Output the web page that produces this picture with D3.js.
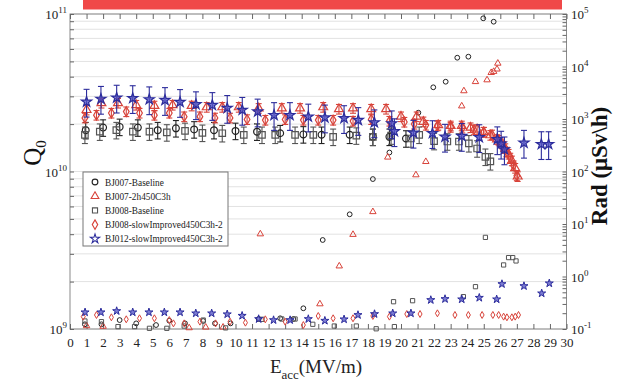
<!DOCTYPE html>
<html>
<head>
<meta charset="utf-8">
<script src="https://cdn.jsdelivr.net/npm/d3@7"></script>
<style>
  html, body { margin: 0; padding: 0; background: #fff; }
  svg { display: block; font-family: "Liberation Serif", "Times New Roman", serif; }
</style>
</head>
<body>
<svg id="chart" width="629" height="386"></svg>
<script>
// ---- Data: Q0 (left axis) with error bars, radiation dose (right axis) ----
const xTicks = d3.range(0, 31);
const leftDecades = [9, 10, 11];
const rightDecades = [-1, 0, 1, 2, 3, 4, 5];

// BJ007-Baseline
const bj007BaseE  = [0.95, 2.0, 3.0, 4.1, 5.3, 6.4, 7.5, 8.7, 10.0, 11.3, 12.7, 14.1, 15.2, 16.9, 18.3, 19.3, 20.3];
const bj007BaseQ  = [1.83e10, 1.90e10, 1.92e10, 1.90e10, 1.83e10, 1.88e10, 1.85e10, 1.83e10, 1.81e10, 1.79e10, 1.75e10, 1.72e10, 1.71e10, 1.71e10, 1.66e10, 1.66e10, 1.62e10];
const bj007BaseRE = [0.9, 1.9, 3.0, 4.0, 5.2, 6.0, 6.95, 8.05, 8.76, 9.7, 11.4, 12.7, 13.5, 14.1, 15.27, 16.9, 18.3, 19.3, 21.05, 21.95, 22.7, 23.4, 24.07, 24.97, 25.6];
const bj007BaseR  = [0.123, 0.123, 0.148, 0.128, 0.119, 0.144, 0.128, 0.142, 0.128, 0.128, 0.155, 0.160, 0.155, 0.248, 4.96, 15.3, 71.8, 230, 1317, 4017, 5130, 14700, 15380, 82800, 71300];

// BJ007-2h450C3h
const bj007BakeE  = [1.0, 1.9, 2.9, 4.0, 5.1, 6.2, 7.35, 8.26, 9.2, 10.2, 11.4, 12.8, 13.9, 15.3, 16.25, 17.1, 18.2, 19.1, 20.0, 20.95, 21.35, 22.25, 23.0, 23.67, 24.2, 24.6, 25.0, 25.4, 25.8, 26.1, 26.3, 26.5, 26.7, 26.9, 27.05];
const bj007BakeQ  = [2.46e10, 2.72e10, 2.72e10, 2.64e10, 2.61e10, 2.64e10, 2.61e10, 2.56e10, 2.56e10, 2.56e10, 2.52e10, 2.52e10, 2.52e10, 2.56e10, 2.49e10, 2.52e10, 2.49e10, 2.49e10, 2.23e10, 2.23e10, 2.07e10, 1.97e10, 1.95e10, 1.95e10, 1.90e10, 1.85e10, 1.78e10, 1.70e10, 1.60e10, 1.50e10, 1.40e10, 1.29e10, 1.17e10, 1.05e10, 9.3e9];
const bj007BakeRE = [1.0, 2.0, 7.2, 8.2, 9.25, 11.5, 15.1, 16.27, 17.1, 18.3, 19.2, 20.9, 21.5, 23.67, 23.8, 24.5, 25.2, 25.45, 25.6, 25.8, 25.85];
const bj007BakeR  = [0.115, 0.112, 0.105, 0.108, 0.108, 6.45, 0.30, 1.58, 6.3, 17.1, 187, 86, 154, 1765, 3430, 5130, 5540, 7630, 8010, 8900, 11500];

// BJ008-Baseline
const bj008BaseE  = [0.9, 1.8, 2.8, 3.8, 4.8, 5.85, 6.95, 8.0, 9.2, 10.5, 11.6, 12.4, 13.6, 14.7, 15.9, 17.3, 18.3, 19.4, 20.6, 21.1, 22.0, 22.8, 23.5, 24.1, 24.6, 25.1, 25.4];
const bj008BaseQ  = [1.71e10, 1.79e10, 1.83e10, 1.79e10, 1.79e10, 1.77e10, 1.81e10, 1.76e10, 1.75e10, 1.71e10, 1.71e10, 1.71e10, 1.71e10, 1.71e10, 1.66e10, 1.69e10, 1.66e10, 1.69e10, 1.62e10, 1.71e10, 1.56e10, 1.55e10, 1.55e10, 1.51e10, 1.40e10, 1.24e10, 1.16e10];
const bj008BaseRE = [0.9, 1.9, 2.9, 3.9, 4.8, 5.85, 6.9, 8.05, 9.4, 11.6, 12.8, 13.6, 14.67, 15.97, 17.3, 18.5, 19.55, 19.6, 20.7, 23.77, 24.5, 25.1, 26.2, 26.5, 26.75, 26.95];
const bj008BaseR  = [0.142, 0.138, 0.111, 0.111, 0.103, 0.103, 0.114, 0.148, 0.105, 0.153, 0.155, 0.155, 0.123, 0.114, 0.114, 0.101, 0.331, 0.111, 0.346, 0.413, 0.64, 5.56, 1.66, 2.29, 2.29, 1.98];

// BJ008-slowImproved450C3h-2
const bj008SlowE  = [0.9, 1.6, 2.5, 3.4, 4.2, 5.1, 6.0, 6.9, 7.85, 8.76, 9.67, 10.7, 11.8, 13.0, 14.1, 15.0, 15.9, 17.1, 18.2, 19.3, 20.2, 20.8, 21.5, 22.2, 23.0, 23.7, 24.4, 25.0, 25.5, 25.9, 26.2, 26.4, 26.6, 26.8, 27.0];
const bj008SlowQ  = [2.19e10, 2.28e10, 2.35e10, 2.40e10, 2.35e10, 2.28e10, 2.35e10, 2.23e10, 2.23e10, 2.19e10, 2.19e10, 2.14e10, 2.12e10, 2.14e10, 2.12e10, 2.12e10, 2.12e10, 2.09e10, 2.14e10, 2.09e10, 2.06e10, 2.00e10, 1.97e10, 1.95e10, 1.91e10, 1.89e10, 1.84e10, 1.78e10, 1.71e10, 1.58e10, 1.45e10, 1.33e10, 1.22e10, 1.09e10, 9.4e9];
const bj008SlowRE = [0.8, 1.6, 2.5, 3.4, 4.2, 5.1, 6.0, 6.25, 6.9, 7.85, 8.8, 9.67, 10.6, 11.8, 13.0, 14.1, 15.0, 15.9, 17.1, 18.3, 19.3, 20.35, 21.15, 22.2, 23.26, 24.07, 24.9, 25.55, 25.9, 26.2, 26.4, 26.7, 26.9, 27.1];
const bj008SlowR  = [0.172, 0.185, 0.167, 0.153, 0.160, 0.160, 0.148, 0.128, 0.128, 0.138, 0.128, 0.138, 0.132, 0.153, 0.138, 0.119, 0.177, 0.160, 0.160, 0.177, 0.172, 0.193, 0.193, 0.199, 0.185, 0.185, 0.185, 0.185, 0.185, 0.172, 0.167, 0.167, 0.172, 0.185];

// BJ012-slowImproved450C3h-2
const bj012SlowE  = [1.0, 1.87, 2.82, 3.79, 4.79, 5.74, 6.65, 7.61, 8.6, 9.5, 10.41, 11.34, 12.33, 13.29, 14.4, 15.4, 16.56, 17.42, 18.39, 19.44, 19.6, 20.75, 21.9, 22.66, 23.67, 24.73, 25.82, 26.05, 26.25, 27.43, 28.48, 28.92];
const bj012SlowQ  = [2.77e10, 2.89e10, 2.94e10, 2.92e10, 2.87e10, 2.84e10, 2.76e10, 2.67e10, 2.64e10, 2.53e10, 2.46e10, 2.40e10, 2.28e10, 2.28e10, 2.23e10, 2.20e10, 2.18e10, 2.12e10, 2.05e10, 2.02e10, 1.80e10, 1.76e10, 1.75e10, 1.66e10, 1.68e10, 1.65e10, 1.60e10, 1.50e10, 1.38e10, 1.52e10, 1.49e10, 1.49e10];
const bj012SlowRE = [0.91, 1.87, 2.82, 3.79, 4.77, 5.7, 6.65, 7.6, 8.56, 9.5, 10.4, 11.4, 12.3, 13.3, 14.4, 15.4, 16.56, 17.4, 18.4, 19.5, 20.6, 21.8, 22.66, 23.67, 24.73, 25.78, 26.1, 27.43, 28.5, 28.96];
const bj012SlowR  = [0.208, 0.208, 0.220, 0.208, 0.208, 0.208, 0.208, 0.199, 0.199, 0.191, 0.179, 0.155, 0.148, 0.148, 0.155, 0.144, 0.153, 0.185, 0.193, 0.199, 0.199, 0.357, 0.373, 0.368, 0.394, 0.368, 0.719, 0.658, 0.478, 0.742];

// relative uncertainty of Q0 for each cavity test
const errBase = 0.12, errBake = 0.07, errStar = 0.20;

// ---- Series definitions ----
const RED = "#d8433a", BLUE = "#2c2c9c", BLACK = "#222";
const series = [
  { name: "BJ007-Baseline", sym: d3.symbolCircle, qs: 36, rs: 18, stroke: BLACK, fill: "none",
    qE: bj007BaseE, qV: bj007BaseQ, rE: bj007BaseRE, rV: bj007BaseR, err: errBase },
  { name: "BJ007-2h450C3h", sym: d3.symbolTriangle, qs: 34, rs: 18, stroke: RED, fill: "none",
    qE: bj007BakeE, qV: bj007BakeQ, rE: bj007BakeRE, rV: bj007BakeR, err: errBake },
  { name: "BJ008-Baseline", sym: d3.symbolSquare, qs: 42, rs: 18, stroke: "#555", fill: "none",
    qE: bj008BaseE, qV: bj008BaseQ, rE: bj008BaseRE, rV: bj008BaseR, err: errBase },
  { name: "BJ008-slowImproved450C3h-2", sym: d3.symbolDiamond, qs: 28, rs: 14, stroke: RED, fill: "none",
    qE: bj008SlowE, qV: bj008SlowQ, rE: bj008SlowRE, rV: bj008SlowR, err: errBake },
  { name: "BJ012-slowImproved450C3h-2", sym: d3.symbolStar, qs: 32, rs: 20, stroke: BLUE, fill: "#5050c4",
    qE: bj012SlowE, qV: bj012SlowQ, rE: bj012SlowRE, rV: bj012SlowR, err: errStar }
];

// ---- Layout ----
const svg = d3.select("#chart");
const L = 70, R = 566.5, T = 14, B = 329;
const x  = d3.scaleLinear().domain([0, 30]).range([L, R]);
const yQ = d3.scaleLog().domain([1e9, 1e11]).range([B, T]);
const yR = d3.scaleLog().domain([0.1, 1e5]).range([B, T]);

// banner
svg.append("rect").attr("x", 83).attr("y", 0).attr("width", 479).attr("height", 9.5).attr("fill", "#f04848");

// horizontal grid at every Q0 minor tick
svg.append("g").selectAll("line").data(yQ.ticks()).join("line")
  .attr("x1", L).attr("x2", R)
  .attr("y1", d => yQ(d)).attr("y2", d => yQ(d))
  .attr("stroke", "#e2e2e2").attr("stroke-width", 1);

// frame
svg.append("rect").attr("x", L).attr("y", T).attr("width", R - L).attr("height", B - T)
  .attr("fill", "none").attr("stroke", "#8a8a8a").attr("stroke-width", 1);

// axes
const axStyle = g => { g.select(".domain").remove(); g.selectAll(".tick line").attr("stroke", "#666"); };
svg.append("g").attr("transform", `translate(0,${B})`)
  .call(d3.axisBottom(x).tickValues(xTicks).tickSize(-5).tickPadding(9).tickFormat(d3.format("d")))
  .call(axStyle)
  .call(g => g.selectAll("text").attr("font-size", 13).attr("font-family", "Liberation Serif").attr("fill", "#222"));
svg.append("g").attr("transform", `translate(0,${T})`)
  .call(d3.axisTop(x).tickValues(xTicks).tickSize(-5).tickFormat(""))
  .call(axStyle);
svg.append("g").attr("transform", `translate(${L},0)`)
  .call(d3.axisLeft(yQ).tickSize(-4).tickFormat(""))
  .call(axStyle);
svg.append("g").attr("transform", `translate(${R},0)`)
  .call(d3.axisRight(yR).tickSize(-4).tickFormat(""))
  .call(axStyle);

// power-of-ten labels
function powLabel(g, v, exp, anchor, xpos, yScale) {
  const t = g.append("text").attr("x", xpos).attr("y", yScale(v) + 5)
    .attr("text-anchor", anchor).attr("font-size", 13).attr("fill", "#222");
  t.append("tspan").text("10");
  t.append("tspan").attr("dy", -6).attr("font-size", 9).text(exp);
}
const gl = svg.append("g");
leftDecades.forEach(e => powLabel(gl, Math.pow(10, e), String(e), "end", 67, yQ));
rightDecades.forEach(e => powLabel(gl, Math.pow(10, e), String(e), "start", 571, yR));

// axis titles
const qt = svg.append("text").attr("transform", "translate(41,153) rotate(-90)")
  .attr("text-anchor", "middle").attr("font-size", 25).attr("fill", "#111");
qt.append("tspan").text("Q");
qt.append("tspan").attr("dy", 5).attr("font-size", 15).text("0");

svg.append("text").attr("transform", "translate(607,166) rotate(-90)")
  .attr("text-anchor", "middle").attr("font-size", 23).attr("font-weight", "bold").attr("fill", "#111")
  .text("Rad (\u03bcSv\\h)");

const xt = svg.append("text").attr("x", 316).attr("y", 373).attr("text-anchor", "middle")
  .attr("font-size", 19).attr("fill", "#222");
xt.append("tspan").text("E");
xt.append("tspan").attr("dy", 6).attr("font-size", 13).text("acc");
xt.append("tspan").attr("dy", -6).text("(MV/m)");

// ---- Marks ----
const plot = svg.append("g");
series.forEach(s => {
  const g = plot.append("g");
  const qData = s.qE.map((e, i) => ({ e, v: s.qV[i] }));
  const rData = s.rE.map((e, i) => ({ e, v: s.rV[i] }));
  const eb = g.append("g").attr("stroke", s.stroke).attr("stroke-width", 1.1);
  eb.selectAll("line.v").data(qData).join("line").attr("class", "v")
    .attr("x1", d => x(d.e)).attr("x2", d => x(d.e))
    .attr("y1", d => yQ(d.v * (1 + s.err))).attr("y2", d => yQ(d.v * (1 - s.err)));
  eb.selectAll("line.t").data(qData).join("line").attr("class", "t")
    .attr("x1", d => x(d.e) - 3).attr("x2", d => x(d.e) + 3)
    .attr("y1", d => yQ(d.v * (1 + s.err))).attr("y2", d => yQ(d.v * (1 + s.err)));
  eb.selectAll("line.b").data(qData).join("line").attr("class", "b")
    .attr("x1", d => x(d.e) - 3).attr("x2", d => x(d.e) + 3)
    .attr("y1", d => yQ(d.v * (1 - s.err))).attr("y2", d => yQ(d.v * (1 - s.err)));
  g.selectAll("path.q").data(qData).join("path").attr("class", "q")
    .attr("d", d3.symbol(s.sym, s.qs))
    .attr("transform", d => `translate(${x(d.e)},${yQ(d.v)})`)
    .attr("fill", s.fill).attr("fill-opacity", 0.75)
    .attr("stroke", s.stroke).attr("stroke-width", 1.2);
  g.selectAll("path.r").data(rData).join("path").attr("class", "r")
    .attr("d", d3.symbol(s.sym, s.rs))
    .attr("transform", d => `translate(${x(d.e)},${yR(d.v)})`)
    .attr("fill", s.fill).attr("fill-opacity", 0.75)
    .attr("stroke", s.stroke).attr("stroke-width", 1);
});

// ---- Legend ----
const lg = svg.append("g").attr("transform", "translate(83,172)");
lg.append("rect").attr("width", 145).attr("height", 74).attr("fill", "#fff").attr("stroke", "#777");
series.forEach((s, i) => {
  const yy = 10 + i * 14.2;
  lg.append("path").attr("d", d3.symbol(s.sym, 26)).attr("transform", `translate(12,${yy})`)
    .attr("fill", "none").attr("stroke", s.stroke).attr("stroke-width", 1.1);
  lg.append("text").attr("x", 22).attr("y", yy + 3.5).attr("font-size", 9.3).attr("fill", "#222").text(s.name);
});
</script>
</body>
</html>
